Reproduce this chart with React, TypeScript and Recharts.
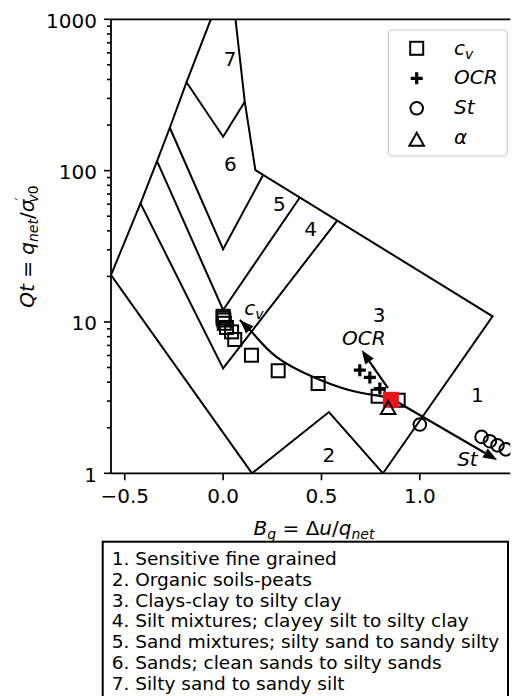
import { Curve, ReferenceLine, Scatter, ScatterChart, XAxis, YAxis } from "recharts";

type Pt = { x: number; y: number };
type LabelPt = Pt & { label: string };

// axis ticks
const X_TICKS = [-0.5, 0, 0.5, 1.0];
const Y_MAJOR = [1, 10, 100, 1000];
const Y_MINOR = [2, 3, 4, 5, 6, 7, 8, 9, 20, 30, 40, 50, 60, 70, 80, 90, 200, 300, 400, 500, 600, 700, 800, 900];

// Robertson zone boundaries (Bq, Qt)
const OUTER_LEFT: Pt[] = [
  { x: -0.57, y: 20.4 }, { x: -0.42, y: 60.8 }, { x: -0.336, y: 115.7 },
  { x: -0.271, y: 192 }, { x: -0.186, y: 384 }, { x: -0.0625, y: 1000 },
];
const LOWER_LEFT: Pt[] = [{ x: -0.57, y: 20.4 }, { x: 0.147, y: 1 }];
const ZONE_2_TOP: Pt[] = [{ x: 0.147, y: 1 }, { x: 0.538, y: 2.54 }, { x: 0.813, y: 1 }];
const OUTER_RIGHT: Pt[] = [
  { x: 0.063, y: 1000 }, { x: 0.11, y: 285.6 }, { x: 0.164, y: 100.9 },
  { x: 1.37, y: 10.9 }, { x: 0.813, y: 1 },
];
const B_7_6: Pt[] = [{ x: -0.186, y: 384 }, { x: 0, y: 167.5 }, { x: 0.11, y: 285.6 }];
const B_6_5: Pt[] = [{ x: -0.271, y: 192 }, { x: 0, y: 30.3 }, { x: 0.204, y: 93.8 }];
const B_5_4: Pt[] = [{ x: -0.336, y: 115.7 }, { x: 0, y: 12.0 }, { x: 0.39, y: 66.5 }];
const B_4_3: Pt[] = [{ x: -0.42, y: 60.8 }, { x: 0, y: 4.93 }, { x: 0.58, y: 46.8 }];

const ZONE_LABELS: LabelPt[] = [
  { x: 0.036, y: 547, label: "7" },
  { x: 0.037, y: 110.6, label: "6" },
  { x: 0.286, y: 60.9, label: "5" },
  { x: 0.445, y: 41.6, label: "4" },
  { x: 0.793, y: 11.1, label: "3" },
  { x: 1.292, y: 3.29, label: "1" },
  { x: 0.538, y: 1.33, label: "2" },
];

// measured parameters
const CV: Pt[] = [
  { x: 0, y: 10.9 }, { x: 0, y: 10.6 }, { x: 0.004, y: 10.3 }, { x: 0.006, y: 9.8 },
  { x: 0.017, y: 9.2 }, { x: 0.043, y: 8.6 }, { x: 0.059, y: 7.66 }, { x: 0.144, y: 6.03 },
  { x: 0.28, y: 4.76 }, { x: 0.483, y: 3.92 }, { x: 0.788, y: 3.23 }, { x: 0.89, y: 3.04 },
];
const OCR: Pt[] = [{ x: 0.695, y: 4.8 }, { x: 0.746, y: 4.3 }, { x: 0.797, y: 3.63 }];
const ST: Pt[] = [
  { x: 1.0, y: 2.1 }, { x: 1.314, y: 1.74 }, { x: 1.356, y: 1.63 },
  { x: 1.395, y: 1.53 }, { x: 1.437, y: 1.44 },
];
const ALPHA: Pt[] = [{ x: 0.839, y: 2.68 }];
const CURRENT: Pt[] = [{ x: 0.853, y: 3.06 }];

// trend arrows, tail first
const CV_TREND: Pt[] = [
  { x: 0.853, y: 3.13 }, { x: 0.788, y: 3.26 }, { x: 0.644, y: 3.54 }, { x: 0.458, y: 4.33 },
  { x: 0.271, y: 5.88 }, { x: 0.153, y: 8.39 }, { x: 0.085, y: 10.3 },
];
const ST_TREND: Pt[] = [{ x: 0.853, y: 3.13 }, { x: 1.393, y: 1.224 }];
const OCR_TREND: Pt[] = [{ x: 0.838, y: 3.65 }, { x: 0.704, y: 6.53 }];
const ARROW_LABELS: LabelPt[] = [
  { x: 0.157, y: 12.0, label: "cv" },
  { x: 0.715, y: 7.9, label: "OCR" },
  { x: 1.242, y: 1.24, label: "St" },
];

const SOIL_TYPES = [
  "1. Sensitive fine grained",
  "2. Organic soils-peats",
  "3. Clays-clay to silty clay",
  "4. Silt mixtures; clayey silt to silty clay",
  "5. Sand mixtures; silty sand to sandy silty",
  "6. Sands; clean sands to silty sands",
  "7. Silty sand to sandy silt",
];

const FONT = "DejaVu Sans";
const TICK_SIZE = 7;
const TICK_MARGIN = 7;
const LINE_W = 2;

function YTick(props: any) {
  const { x, y, payload } = props;
  const ax = x + TICK_SIZE + TICK_MARGIN;
  const major = Y_MAJOR.includes(payload.value);
  return (
    <g>
      <line x1={ax} x2={ax - (major ? 7 : 4)} y1={y} y2={y} stroke="#000" strokeWidth={1.6} />
      {major && (
        <text x={x} y={y + 8.5} textAnchor="end" fontSize={20} fontFamily={FONT} fill="#000">
          {payload.value}
        </text>
      )}
    </g>
  );
}

function XTick(props: any) {
  const { x, y, payload } = props;
  const ay = y - TICK_SIZE - TICK_MARGIN;
  const v = payload.value as number;
  const txt = (v < 0 ? "\u2212" : "") + Math.abs(v).toFixed(1);
  return (
    <g>
      <line x1={x} x2={x} y1={ay} y2={ay + 7} stroke="#000" strokeWidth={1.6} />
      <text x={x} y={ay + 30} textAnchor="middle" fontSize={20} fontFamily={FONT} fill="#000">
        {txt}
      </text>
    </g>
  );
}

const noDot = () => <g />;

const square = (p: any) => (
  <rect x={p.cx - 6.5} y={p.cy - 6.5} width={13} height={13} fill="none" stroke="#000" strokeWidth={2} />
);
const redSquare = (p: any) => <rect x={p.cx - 8} y={p.cy - 8} width={16} height={16} fill="#e8141c" />;
const plus = (p: any) => (
  <path d={`M${p.cx - 6},${p.cy}H${p.cx + 6}M${p.cx},${p.cy - 6}V${p.cy + 6}`} stroke="#000" strokeWidth={3.2} />
);
const circle = (p: any) => <circle cx={p.cx} cy={p.cy} r={6.3} fill="none" stroke="#000" strokeWidth={2} />;
const triangle = (p: any) => (
  <path
    d={`M${p.cx},${p.cy - 7.5}L${p.cx + 7.3},${p.cy + 5.5}L${p.cx - 7.3},${p.cy + 5.5}Z`}
    fill="none"
    stroke="#000"
    strokeWidth={2}
  />
);

const zoneLabel = (p: any) => (
  <text x={p.cx} y={p.cy + 7.3} textAnchor="middle" fontSize={20} fontFamily={FONT} fill="#000">
    {p.payload.label}
  </text>
);

const arrowLabel = (p: any) => {
  const label = p.payload.label as string;
  if (label === "cv") {
    return (
      <text x={p.cx} y={p.cy + 5} textAnchor="middle" fontSize={20} fontFamily={FONT} fontStyle="italic" fill="#000">
        c<tspan fontSize={14} dy={4}>v</tspan>
      </text>
    );
  }
  return (
    <text x={p.cx} y={p.cy + 7.3} textAnchor="middle" fontSize={20} fontFamily={FONT} fontStyle="italic" fill="#000">
      {label}
    </text>
  );
};

function arrow(curveType: "linear" | "natural") {
  return (p: any) => {
    const pts = p.points as { x: number; y: number }[];
    if (!pts || pts.length < 2) return <g />;
    const tip = pts[pts.length - 1];
    const prev = pts[pts.length - 2];
    const a = Math.atan2(tip.y - prev.y, tip.x - prev.x);
    const L = 14;
    const W = 5.2;
    const bx = tip.x - L * Math.cos(a);
    const by = tip.y - L * Math.sin(a);
    const head = `${tip.x},${tip.y} ${bx + W * Math.sin(a)},${by - W * Math.cos(a)} ${bx - W * Math.sin(a)},${by + W * Math.cos(a)}`;
    const linePts = curveType === "linear" ? [...pts.slice(0, -1), { x: bx, y: by }] : pts;
    return (
      <g>
        <Curve type={curveType} points={linePts} stroke="#000" strokeWidth={2.2} fill="none" />
        <polygon points={head} fill="#000" />
      </g>
    );
  };
}

const boundaryLine = { stroke: "#000", strokeWidth: LINE_W, strokeLinejoin: "miter" as const };

function Legend() {
  const mx = 416.7;
  const tx = 454;
  const rows = [48.3, 78.3, 108.3, 139.3];
  const base = [54.5, 84, 113.5, 144];
  return (
    <g fontFamily={FONT} fontSize={20} fontStyle="italic" fill="#000">
      <rect x={388.3} y={30} width={119} height={126} rx={4} fill="#fff" fillOpacity={0.8} stroke="#cccccc" strokeWidth={1.2} />
      {square({ cx: mx, cy: rows[0] })}
      {plus({ cx: mx, cy: rows[1] })}
      {circle({ cx: mx, cy: rows[2] })}
      {triangle({ cx: mx, cy: rows[3] + 1 })}
      <text x={tx} y={base[0]}>
        c<tspan fontSize={14} dy={4}>v</tspan>
      </text>
      <text x={tx} y={base[1]}>OCR</text>
      <text x={tx} y={base[2]}>St</text>
      <text x={tx} y={base[3]}>α</text>
    </g>
  );
}

function Overlay() {
  return (
    <svg width={516} height={696} style={{ position: "absolute", left: 0, top: 0, pointerEvents: "none" }}>
      <Legend />
      {/* y axis title */}
      <text transform="translate(34,246.5) rotate(-90)" textAnchor="middle" fontFamily={FONT} fontSize={20} fill="#000">
        <tspan fontStyle="italic">Qt</tspan>
        <tspan> = </tspan>
        <tspan fontStyle="italic">q</tspan>
        <tspan fontStyle="italic" fontSize={14} dy={4}>net</tspan>
        <tspan dy={-4}>/</tspan>
        <tspan fontStyle="italic">σ</tspan>
        <tspan fontSize={14} dy={-9} dx={-1}>′</tspan>
        <tspan fontStyle="italic" fontSize={14} dx={-5} dy={13}>v</tspan>
        <tspan fontSize={14}>0</tspan>
      </text>
      {/* x axis title */}
      <text x={314} y={535} textAnchor="middle" fontFamily={FONT} fontSize={20} fill="#000">
        <tspan fontStyle="italic">B</tspan>
        <tspan fontStyle="italic" fontSize={14} dy={4}>q</tspan>
        <tspan dy={-4}> = Δ</tspan>
        <tspan fontStyle="italic">u</tspan>
        <tspan>/</tspan>
        <tspan fontStyle="italic">q</tspan>
        <tspan fontStyle="italic" fontSize={14} dy={4}>net</tspan>
      </text>
      {/* soil type box */}
      <rect x={102.7} y={541.7} width={405.3} height={170} fill="none" stroke="#000" strokeWidth={2} />
      {SOIL_TYPES.map((t, i) => (
        <text key={t} x={111.7} y={565 + i * 20.83} fontFamily={FONT} fontSize={18.5} fill="#000">
          {t}
        </text>
      ))}
    </svg>
  );
}

export default function App() {
  return (
    <div style={{ position: "absolute", left: 0, top: 0, width: 516, height: 696, background: "#fff", overflow: "hidden" }}>
      <ScatterChart width={516} height={696} margin={{ top: 19.3, right: 5.7, bottom: 192.7, left: 0 }}>
        <XAxis
          type="number"
          dataKey="x"
          domain={[-0.57, 1.46]}
          ticks={X_TICKS}
          interval={0}
          allowDataOverflow
          height={30}
          tickSize={TICK_SIZE}
          tickMargin={TICK_MARGIN}
          tickLine={false}
          tick={<XTick />}
          axisLine={{ stroke: "#000", strokeWidth: 1.8 }}
        />
        <YAxis
          type="number"
          dataKey="y"
          scale="log"
          domain={[1, 1000]}
          ticks={[...Y_MAJOR, ...Y_MINOR]}
          interval={0}
          allowDataOverflow
          width={111}
          tickSize={TICK_SIZE}
          tickMargin={TICK_MARGIN}
          tickLine={false}
          tick={<YTick />}
          axisLine={{ stroke: "#000", strokeWidth: 1.8 }}
        />
        <ReferenceLine y={1000} stroke="#000" strokeWidth={1.8} />

        {[OUTER_LEFT, LOWER_LEFT, ZONE_2_TOP, OUTER_RIGHT, B_7_6, B_6_5, B_5_4, B_4_3].map((seg, i) => (
          <Scatter key={`b${i}`} data={seg} line={boundaryLine} lineJointType="linear" shape={noDot} isAnimationActive={false} />
        ))}
        <Scatter data={ZONE_LABELS} shape={zoneLabel} isAnimationActive={false} />

        <Scatter name="cv" data={CV} shape={square} isAnimationActive={false} />
        <Scatter name="OCR" data={OCR} shape={plus} isAnimationActive={false} />
        <Scatter name="St" data={ST} shape={circle} isAnimationActive={false} />

        <Scatter data={CV_TREND} line={arrow("natural")} shape={noDot} isAnimationActive={false} />
        <Scatter data={ST_TREND} line={arrow("linear")} shape={noDot} isAnimationActive={false} />
        <Scatter data={OCR_TREND} line={arrow("linear")} shape={noDot} isAnimationActive={false} />

        <Scatter data={CURRENT} shape={redSquare} isAnimationActive={false} />
        <Scatter name="α" data={ALPHA} shape={triangle} isAnimationActive={false} />
        <Scatter data={ARROW_LABELS} shape={arrowLabel} isAnimationActive={false} />
      </ScatterChart>
      <Overlay />
    </div>
  );
}
